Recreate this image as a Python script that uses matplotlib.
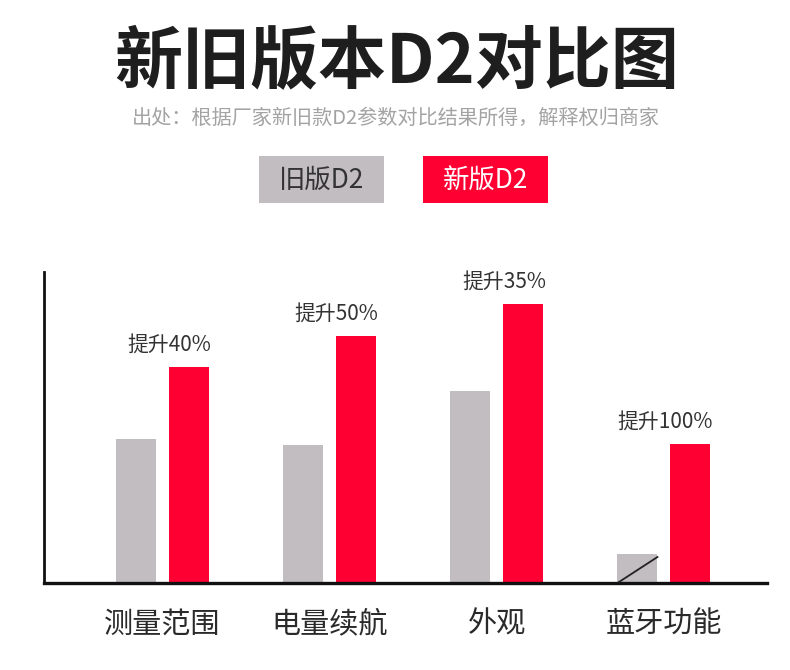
"""Old vs new D2 comparison bar chart."""

import matplotlib

matplotlib.use("Agg")
import matplotlib.pyplot as plt
import numpy as np
from matplotlib.patches import Rectangle

plt.rcParams["font.family"] = ["Noto Sans CJK SC", "DejaVu Sans"]

categories = ["测量范围", "电量续航", "外观", "蓝牙功能"]
old_values = [144, 138, 192, 29]
new_values = [216, 247, 279, 139]
gain_labels = ["提升40%", "提升50%", "提升35%", "提升100%"]
series_names = ["旧版D2", "新版D2"]

GRAY = "#c2bdc1"
RED = "#ff0033"
W, H = 790, 670


def px_x(x):
    return x / W


def px_y(y):
    return 1 - y / H


def main():
    fig = plt.figure(figsize=(7.9, 6.7), dpi=100)
    fig.patch.set_facecolor("white")

    # plot area in pixel terms: x 44..767, y 272..583
    ax = fig.add_axes([px_x(44), px_y(583), (767 - 44) / W, (583 - 272) / H])
    x = np.arange(len(categories))
    bw = 0.24
    off = 0.158
    ax.bar(x - off, old_values, bw, color=GRAY, zorder=2)
    bars = ax.bar(x + off, new_values, bw, color=RED, zorder=2)

    # no old bluetooth feature: slash across the small gray bar
    i = 3
    ax.plot([x[i] - off - bw / 2 + 0.01, x[i] - off + bw / 2],
            [1, old_values[i] - 3], color="#222222", lw=1.3, zorder=3)

    for b, lab in zip(bars, gain_labels):
        ax.annotate(lab, (b.get_x() + b.get_width(), b.get_height()),
                    xytext=(2, 8), textcoords="offset points",
                    ha="right", va="bottom", fontsize=15, color="#333333")

    ax.set_xlim(-0.707, 3.617)
    ax.set_ylim(0, 311)
    ax.set_yticks([])
    ax.set_xticks(x, categories, fontsize=21, color="#2a2a2a")
    ax.tick_params(axis="x", length=0, pad=19)
    for s in ["top", "right"]:
        ax.spines[s].set_visible(False)
    ax.spines["left"].set_linewidth(2)
    ax.spines["bottom"].set_linewidth(2.4)
    ax.spines["left"].set_color("#111111")
    ax.spines["bottom"].set_color("#111111")

    fig.text(px_x(397), px_y(64), "新旧版本D2对比图", ha="center", va="center",
             fontsize=49, fontweight="bold", color="#1e1e1e")
    fig.text(px_x(396), px_y(118), "出处：根据厂家新旧款D2参数对比结果所得，解释权归商家",
             ha="center", va="center", fontsize=14.5, color="#a3a3a3")

    # legend boxes
    for (x0, x1), col, tcol, name in [((259, 384), GRAY, "#333333", series_names[0]),
                                      ((423, 548), RED, "white", series_names[1])]:
        fig.patches.append(Rectangle((px_x(x0), px_y(203)), (x1 - x0) / W, 47 / H,
                                     transform=fig.transFigure, facecolor=col,
                                     edgecolor="none"))
        fig.text(px_x((x0 + x1) / 2), px_y(180), name, ha="center", va="center",
                 fontsize=19, color=tcol)

    fig.savefig("out.png", dpi=100, facecolor="white")
    plt.close(fig)


if __name__ == "__main__":
    main()
